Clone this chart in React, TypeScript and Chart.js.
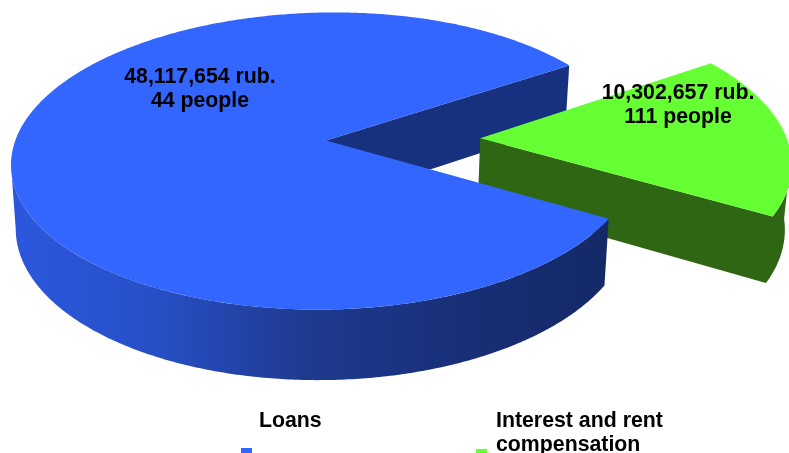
import { useEffect, useRef } from "react";
import { Chart, registerables } from "chart.js";

Chart.register(...registerables);

const categories = ["Loans", "Interest and rent compensation"];
const amounts = [48117654, 10302657];
const people = [44, 111];
const legendLines = [["Loans"], ["Interest and rent", "compensation"]];
const topColors = ["#3366ff", "#66ff33"];
const wallColors = ["#17317f", "#2f6614"];

const FONT = '"Liberation Sans", Arial, sans-serif';
const START_DEG = 31.5;

// Camera model for the tilted disc
const CX = 326;
const CY = 140.5;
const RX = 312;
const RY = 145.7;
const PERSP = 0.138;
const DEPTH = 63;
const BASE_SCALE = 0.985;
const WIDTH_TAPER = 0.015;
const TILT = 4;
const EXPLODE = [0, 0.5];

type Pt = [number, number];

function project(angle: number, radius: number, slice: number, base: boolean): Pt {
  const mid = EXPLODE[slice] > 0 ? -0.2 * (Math.PI / 180) : 0;
  const u = radius * Math.cos(angle) + EXPLODE[slice] * Math.cos(mid);
  const v = radius * Math.sin(angle) + EXPLODE[slice] * Math.sin(mid);
  const w = 1 - PERSP * v;
  const k = base ? BASE_SCALE : 1;
  const drop = base ? DEPTH : 0;
  const taper = 1 - (WIDTH_TAPER * (1 + u)) / 2;
  return [CX + (RX * k * u * taper) / w, CY + (RY * k * v - TILT * u + drop) / w];
}

function samples(from: number, to: number): number[] {
  const n = Math.max(2, Math.ceil(Math.abs(to - from) / 0.01));
  return Array.from({ length: n + 1 }, (_, i) => from + ((to - from) * i) / n);
}

function fillPath(ctx: CanvasRenderingContext2D, pts: Pt[], fill: string | CanvasGradient) {
  ctx.beginPath();
  pts.forEach(([x, y], i) => (i ? ctx.lineTo(x, y) : ctx.moveTo(x, y)));
  ctx.closePath();
  ctx.fillStyle = fill;
  ctx.fill();
}

const discPlugin = {
  id: "tiltedDisc",
  beforeDatasetsDraw(chart: any) {
    const ctx: CanvasRenderingContext2D = chart.ctx;
    const arcs = chart.getDatasetMeta(0).data;
    const [loan, interest] = arcs;
    const silhouette = Math.asin(PERSP);

    const top = (i: number, a: any): Pt[] => [
      project(0, 0, i, false),
      ...samples(a.startAngle, a.endAngle).map((t) => project(t, 1, i, false)),
    ];

    // Cut face of the large slice, seen through the gap
    fillPath(
      ctx,
      [
        project(0, 0, 0, false),
        project(loan.endAngle, 1, 0, false),
        project(loan.endAngle, 1, 0, true),
        project(0, 0, 0, true),
      ],
      wallColors[0],
    );

    // Small slice: cut face and rim as one outline, then top
    const rim = samples(interest.endAngle - 2 * Math.PI, silhouette);
    fillPath(
      ctx,
      [
        project(0, 0, 1, false),
        ...rim.map((t) => project(t, 1, 1, false)),
        ...rim.slice().reverse().map((t) => project(t, 1, 1, true)),
        project(0, 0, 1, true),
      ],
      wallColors[1],
    );
    fillPath(ctx, top(1, interest), topColors[1]);

    // Large slice: shaded rim, then top
    const rimGradient = ctx.createLinearGradient(20, 0, 610, 0);
    rimGradient.addColorStop(0, "#2c57dd");
    rimGradient.addColorStop(0.22, "#2750c8");
    rimGradient.addColorStop(0.48, "#1f3b90");
    rimGradient.addColorStop(0.75, "#182f78");
    rimGradient.addColorStop(1, "#142966");
    const front = samples(loan.startAngle, Math.PI - silhouette);
    fillPath(
      ctx,
      [...front.map((t) => project(t, 1, 0, false)), ...front.slice().reverse().map((t) => project(t, 1, 0, true))],
      rimGradient,
    );
    fillPath(ctx, top(0, loan), topColors[0]);
    return false;
  },
  afterDraw(chart: any) {
    const ctx: CanvasRenderingContext2D = chart.ctx;
    ctx.save();
    ctx.fillStyle = "#000";
    ctx.textAlign = "center";
    ctx.textBaseline = "alphabetic";
    ctx.font = `bold 21.3px ${FONT}`;
    const valueAnchors: Pt[] = [
      [200, 83],
      [678, 99],
    ];
    amounts.forEach((value, i) => {
      const [x, y] = valueAnchors[i];
      ctx.fillText(`${value.toLocaleString("en-US")} rub.`, x, y);
      ctx.fillText(`${people[i]} people`, x, y + 24);
    });

    ctx.textAlign = "left";
    const legendText: Pt[] = [
      [259, 427],
      [496, 427],
    ];
    const legendSwatch: Pt[] = [
      [241, 448],
      [476, 449],
    ];
    categories.forEach((_, i) => {
      legendLines[i].forEach((line, j) => ctx.fillText(line, legendText[i][0], legendText[i][1] + j * 24));
      ctx.fillStyle = topColors[i];
      ctx.fillRect(legendSwatch[i][0], legendSwatch[i][1], 11, 11);
      ctx.fillStyle = "#000";
    });
    ctx.restore();
  },
};

export default function App() {
  const ref = useRef<HTMLCanvasElement>(null);
  useEffect(() => {
    const chart = new Chart(ref.current!, {
      type: "pie",
      data: {
        labels: categories,
        datasets: [{ data: amounts, backgroundColor: topColors, borderWidth: 0 }],
      },
      options: {
        animation: false,
        responsive: false,
        rotation: START_DEG + 90,
        plugins: { legend: { display: false }, tooltip: { enabled: false } },
      },
      plugins: [discPlugin],
    });
    return () => chart.destroy();
  }, []);
  return (
    <canvas
      ref={ref}
      width={789}
      height={453}
      style={{ position: "fixed", left: 0, top: 0, width: 789, height: 453, display: "block" }}
    />
  );
}
